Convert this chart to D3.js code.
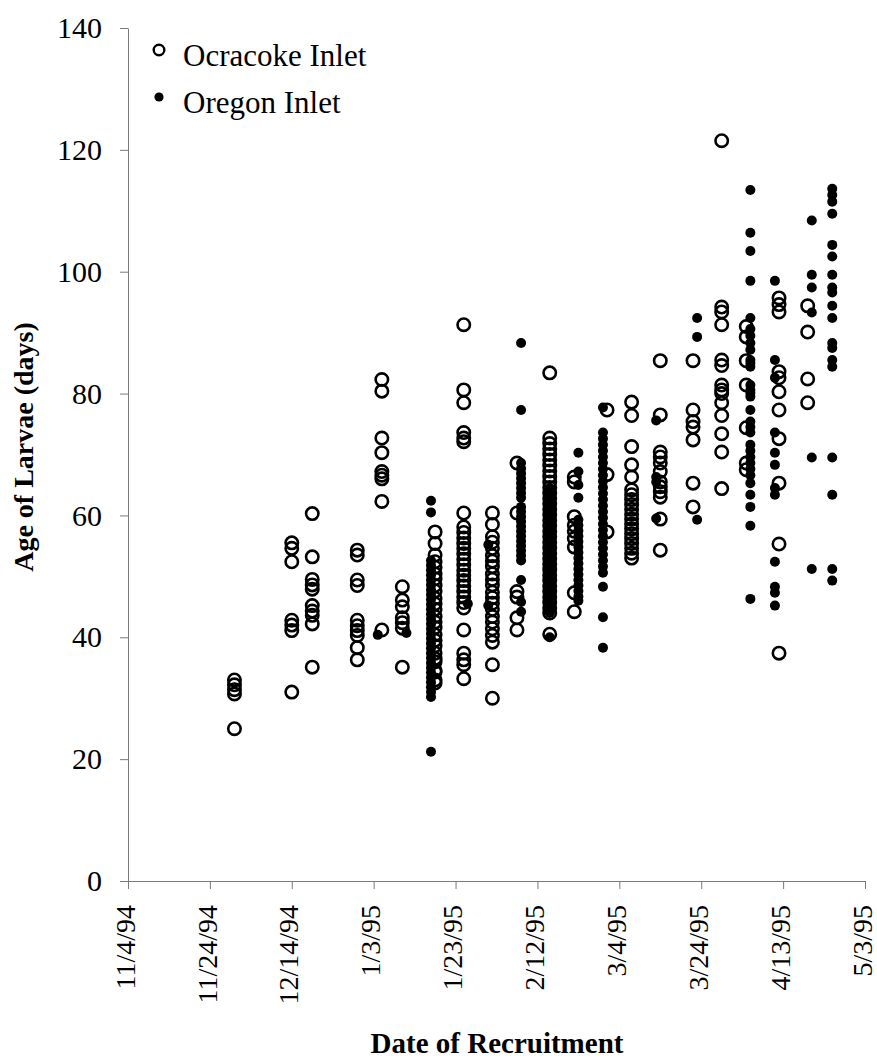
<!DOCTYPE html>
<html>
<head>
<meta charset="utf-8">
<script src="https://cdn.jsdelivr.net/npm/d3@7"></script>
<style>
  body { margin: 0; background: #fff; }
  svg { display: block; }
</style>
</head>
<body>
<div id="chart"></div>
<script>
// tick labels
const xTickLabels = ["11/4/94", "11/24/94", "12/14/94", "1/3/95", "1/23/95",
  "2/12/95", "3/4/95", "3/24/95", "4/13/95", "5/3/95"];
const yTicks = [0, 20, 40, 60, 80, 100, 120, 140];

// Ocracoke Inlet (open circles): sampling dates and larval ages
const ocracokeDates = ["11/30/94", "12/14/94", "12/19/94", "12/30/94", "1/5/95", "1/10/95",
  "1/18/95", "1/25/95", "2/1/95", "2/7/95", "2/15/95", "2/21/95", "3/1/95", "3/7/95",
  "3/14/95", "3/22/95", "3/29/95", "4/4/95", "4/12/95", "4/19/95"];
const ocracokeAges = [
  [33, 32.2, 31.4, 30.7, 25],
  [55.5, 54.6, 52.4, 42.8, 42, 41.1, 31],
  [60.3, 53.2, 49.5, 48.6, 47.9, 45.2, 44.3, 43.6, 42.2, 35.1],
  [54.3, 53.5, 49.4, 48.5, 42.8, 41.9, 41.1, 40.3, 38.3, 36.3],
  [82.3, 80.4, 72.7, 70.3, 67.2, 66.6, 66, 62.3, 41.2],
  [48.3, 46.1, 45, 43.2, 42.4, 41.5, 35.1],
  [57.3, 55.4, 53.5, 52.4, 51.5, 50.4, 49.6, 48.5, 47.6, 46.4, 45.5, 44.6, 43.4, 42.5,
    41.6, 40.4, 39.5, 38.6, 37.4, 36.5, 36, 34.6, 34.3, 33, 32.5],
  [91.3, 80.6, 78.5, 73.6, 72.7, 72.1, 60.4, 58.1, 57.2, 56.3, 55.4, 54.6, 53.7, 52.8,
    51.9, 51, 50.2, 49.3, 48.4, 47.5, 46.6, 45.7, 44.8, 41.2, 37.4, 36.3, 35.5, 33.2],
  [60.4, 58.5, 56.5, 55.6, 54.6, 53.4, 52.5, 51.6, 50.4, 49.5, 48.6, 47.4, 46.5, 45.6,
    44.6, 43.4, 42.5, 41.4, 40.3, 39.2, 35.5, 30],
  [68.6, 60.4, 47.5, 46.6, 43.2, 41.2],
  [83.4, 72.7, 71.8, 70.9, 70, 69.1, 68.2, 67.3, 66.4, 65.5, 64.6, 63.7, 62.8, 61.9, 61,
    60.1, 59.2, 58.3, 57.4, 56.5, 55.6, 54.7, 53.8, 52.9, 52, 51.1, 50.2, 49.3, 48.4,
    47.5, 46.6, 45.7, 44.8, 44, 40.5],
  [66.3, 65.5, 59.8, 58.4, 57.4, 56.2, 54.8, 47.3, 44.2],
  [77.3, 66.7, 57.3],
  [78.6, 76.4, 71.3, 68.3, 66.3, 64.2, 63.4, 62.6, 61.8, 61, 60.2, 59.4, 58.6, 57.8, 57,
    56.2, 55.4, 54.6, 53.8, 53],
  [85.4, 76.5, 70.4, 69.6, 68.6, 67.2, 65.5, 64.7, 63.9, 63, 59.4, 54.3],
  [85.4, 77.3, 75.4, 74.5, 72.4, 65.3, 61.4],
  [121.5, 94.2, 93.4, 91.3, 85.5, 84.6, 81.4, 80.6, 80, 78.5, 76.4, 73.4, 70.4, 64.4],
  [91, 89.3, 85.4, 81.4, 74.4, 68.6, 67.5],
  [95.7, 94.6, 93.4, 83.6, 82.6, 80.3, 77.3, 72.6, 65.3, 55.3, 37.4],
  [94.4, 90.1, 82.4, 78.5]
];

// Oregon Inlet (filled dots)
const oregonDates = ["1/4/95", "1/11/95", "1/17/95", "1/26/95", "1/31/95", "2/8/95",
  "2/15/95", "2/22/95", "2/28/95", "3/13/95", "3/23/95", "4/5/95", "4/11/95",
  "4/20/95", "4/25/95"];
const oregonAges = [
  [40.4],
  [40.7],
  [62.4, 60.5, 52.6, 51.8, 51, 50.2, 49.4, 48.6, 47.8, 47, 46.2, 45.4, 44.6, 43.8, 43,
    42.2, 41.4, 40.6, 39.8, 39, 38.2, 37.4, 36.6, 35.8, 35, 34.2, 33.4, 32.6, 31.8, 31,
    30.2, 21.2],
  [45.5],
  [55.2, 45.2],
  [88.3, 77.3, 68.6, 67.7, 66.9, 66.1, 65.3, 64.5, 63.7, 62.9, 61.4, 60.6, 59.8, 59,
    58.2, 57.4, 56.6, 55.8, 55, 54.2, 53.4, 52.6, 49.4, 45.8, 44.2],
  [64.5, 63.6, 62.7, 61.8, 60.9, 60, 59.1, 58.2, 57.3, 56.4, 55.5, 54.6, 53.7, 52.8,
    51.9, 51, 50.1, 49.2, 48.3, 47.4, 46.5, 45.6, 44.7, 44, 40],
  [70.3, 67.2, 65, 62.9, 59.3, 58.4, 57.5, 56.6, 55.7, 54.8, 53.9, 53, 52.1, 51.2, 50.3,
    49.4, 48.5, 47.6, 46.7, 46],
  [77.7, 73.6, 72.6, 71.6, 70.6, 69.6, 68.6, 67.6, 66.6, 65.6, 64.6, 63.6, 62.6, 61.6,
    60.6, 59.6, 58.6, 57.6, 56.6, 55.6, 54.6, 53.6, 52.6, 51.6, 50.6, 48.3, 43.3, 38.3],
  [75.6, 66.3, 65.5, 59.5],
  [92.4, 89.3, 59.3],
  [113.4, 106.4, 103.4, 98.5, 92.4, 90.6, 89.5, 88.3, 87.2, 85.5, 85, 84.4, 81.4, 80.6,
    80.1, 79.5, 77.3, 75.4, 74.5, 73.6, 71.6, 70.6, 69.6, 68.6, 67.6, 66.6, 65.3, 63.4,
    61.4, 58.3, 46.3],
  [98.5, 85.5, 82.6, 73.6, 70.3, 68.3, 64.5, 63.4, 52.4, 48.3, 47.3, 45.2],
  [108.4, 99.5, 97.4, 93.3, 69.5, 51.2],
  [113.6, 112.6, 111.5, 109.5, 104.4, 102.5, 99.5, 97.4, 96.6, 94.4, 92.4, 88.3, 87.5,
    85.5, 84.4, 69.5, 63.4, 51.2, 49.3]
];

const parseDate = d3.timeParse("%m/%d/%y");

// flatten date/age lists into points
const toPoints = (dates, ages) => {
  const pts = [];
  dates.forEach((d, i) => {
    ages[i].forEach(a => pts.push({ date: parseDate(d), age: a }));
  });
  return pts;
};
const ocracokePoints = toPoints(ocracokeDates, ocracokeAges);
const oregonPoints = toPoints(oregonDates, oregonAges);

const width = 877, height = 1062;
const serif = "'Liberation Serif', 'Times New Roman', serif";
const axisColor = "#7a7a7a";

const svg = d3.select("#chart").append("svg")
  .attr("width", width)
  .attr("height", height);

const xTickDates = xTickLabels.map(parseDate);

const x = d3.scaleTime()
  .domain([xTickDates[0], xTickDates[xTickDates.length - 1]])
  .range([128, 865]);

const y = d3.scaleLinear()
  .domain([0, 140])
  .range([881, 28]);

// y axis
const yAxis = svg.append("g")
  .attr("transform", `translate(${x.range()[0]},0)`)
  .call(d3.axisLeft(y).tickValues(yTicks).tickSize(8).tickSizeOuter(0).tickPadding(18));
yAxis.select(".domain").attr("stroke", axisColor);
yAxis.selectAll(".tick line").attr("stroke", axisColor);
yAxis.selectAll(".tick text")
  .attr("fill", "#000")
  .style("font-family", serif)
  .style("font-size", "30px");

// x axis, labels turned to read upwards
const xAxis = svg.append("g")
  .attr("transform", `translate(0,${y(0)})`)
  .call(d3.axisBottom(x).tickValues(xTickDates).tickSize(8).tickSizeOuter(0)
    .tickFormat((d, i) => xTickLabels[i]));
xAxis.select(".domain").attr("stroke", axisColor);
xAxis.selectAll(".tick line").attr("stroke", axisColor);
xAxis.selectAll(".tick text")
  .attr("fill", "#000")
  .attr("transform", "rotate(-90)")
  .attr("x", -24)
  .attr("y", 0)
  .attr("dy", "0.22em")
  .attr("text-anchor", "end")
  .style("font-family", serif)
  .style("font-size", "28px");

// axis titles
svg.append("text")
  .attr("transform", "translate(33,447) rotate(-90)")
  .attr("text-anchor", "middle")
  .style("font-family", serif)
  .style("font-weight", "bold")
  .style("font-size", "28px")
  .text("Age of Larvae (days)");

svg.append("text")
  .attr("x", 497)
  .attr("y", 1053)
  .attr("text-anchor", "middle")
  .style("font-family", serif)
  .style("font-weight", "bold")
  .style("font-size", "29px")
  .text("Date of Recruitment");

// points: open circles first, filled dots on top
svg.append("g").selectAll("circle")
  .data(ocracokePoints)
  .enter()
  .append("circle")
  .attr("cx", d => x(d.date))
  .attr("cy", d => y(d.age))
  .attr("r", 6.2)
  .attr("fill", "none")
  .attr("stroke", "#000")
  .attr("stroke-width", 2.6);

svg.append("g").selectAll("circle")
  .data(oregonPoints)
  .enter()
  .append("circle")
  .attr("cx", d => x(d.date))
  .attr("cy", d => y(d.age))
  .attr("r", 5)
  .attr("fill", "#000");

// legend
const legend = svg.append("g");
legend.append("circle")
  .attr("cx", 159).attr("cy", 50).attr("r", 5.3)
  .attr("fill", "none").attr("stroke", "#000").attr("stroke-width", 2.4);
legend.append("text")
  .attr("x", 183).attr("y", 66)
  .style("font-family", serif).style("font-size", "31px")
  .text("Ocracoke Inlet");
legend.append("circle")
  .attr("cx", 159).attr("cy", 97).attr("r", 4.6)
  .attr("fill", "#000");
legend.append("text")
  .attr("x", 183).attr("y", 113)
  .style("font-family", serif).style("font-size", "31px")
  .text("Oregon Inlet");
</script>
</body>
</html>
